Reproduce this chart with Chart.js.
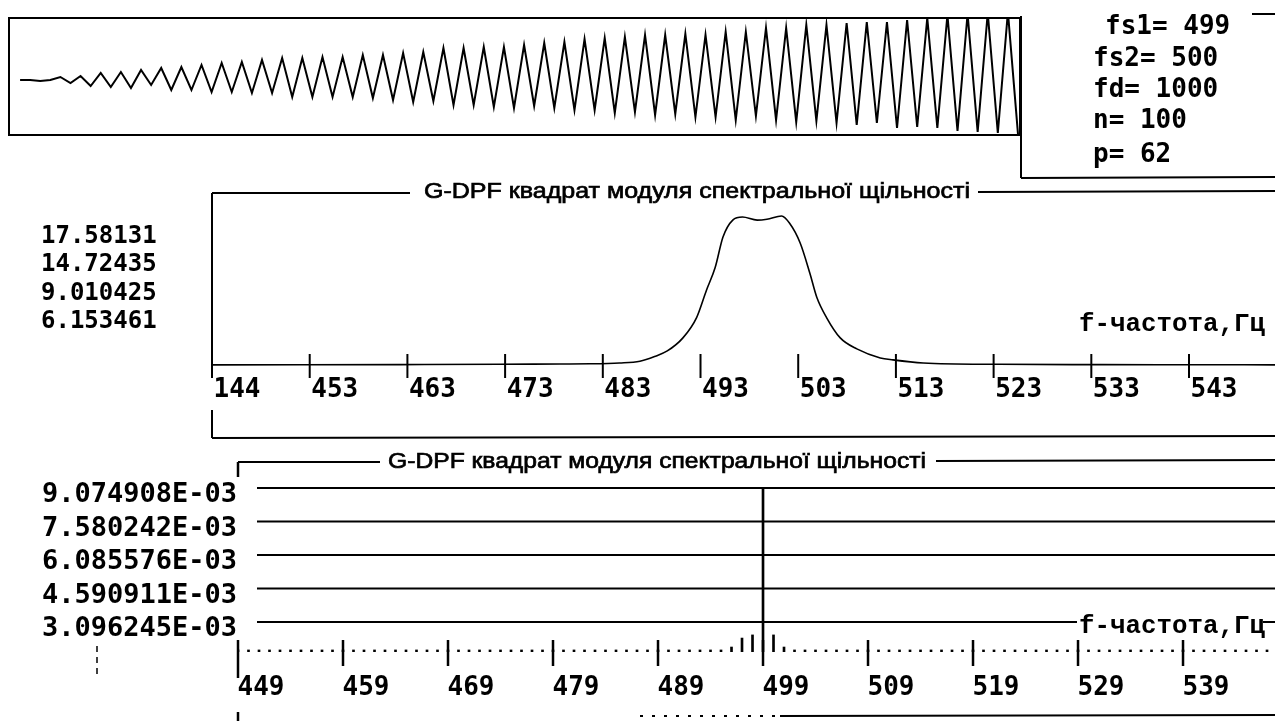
<!DOCTYPE html>
<html><head><meta charset="utf-8">
<script src="https://cdn.jsdelivr.net/npm/chart.js@4.4.0/dist/chart.umd.min.js"></script>
<style>
html,body{margin:0;padding:0;background:#fff;}
#wrap{position:relative;width:1275px;height:721px;overflow:hidden;background:#fff;}
canvas{position:absolute;left:0;top:0;}
</style></head><body>
<div id="wrap">
<canvas id="c1" width="1275" height="721"></canvas>
<canvas id="c2" width="1275" height="721"></canvas>
<canvas id="c3" width="1275" height="721"></canvas>
</div>
<script>
// ---------------- data ----------------
// panel 1: sampled signal (100 samples)
const waveSamples = [
  -4,-4,-5,-4,-1,-7,0,-10,3,-11,
  4,-12,6,-9,8,-14,9,-14,11,-16,
  13,-16,14,-17,16,-17,18,-21,18,-21,
  19,-21,19,-21,21,-22,21,-24,23,-26,
  24,-25,28,-29,28,-29,29,-31,29,-32,
  31,-30,33,-32,34,-34,37,-34,38,-37,
  39,-36,41,-39,41,-38,42,-41,41,-41,
  44,-44,44,-40,48,-44,48,-46,51,-45,
  51,-47,53,-49,54,-47,54,-52,56,-51,
  58,-52,61,-55,62,-56,63,-57,64,-58
];
const infoLines = ['fs1= 499','fs2= 500','fd= 1000','n= 100','p= 62'];

// panel 2: squared magnitude of spectral density (continuous)
const specFreq = [443,452,462.2,472.5,478.6,481.7,484.7,486.8,488.3,489.6,491.2,492.6,493.6,494.5,495.3,496.3,497.3,498.8,499.8,501.3,502.1,503.2,504.2,504.9,505.9,507.3,509,511.4,512.7,515.8,523.6,533.9,543,551.8];
const specValue = [0.02,0.03,0.05,0.08,0.12,0.14,0.24,0.45,1.0,1.66,3.2,5.6,8.8,11.5,15.1,17.1,17.46,17.1,17.2,17.58,16.75,14.4,10.8,8.0,5.6,3.2,1.9,0.83,0.6,0.24,0.08,0.04,0.03,0.02];
const specYLabels = ['17.58131','14.72435','9.010425','6.153461'];
const specXTicks = [443,453,463,473,483,493,503,513,523,533,543];
const specXLabels = ['144','453','463','473','483','493','503','513','523','533','543'];

// panel 3: DFT bins
const binFreq = [449,450,451,452,453,454,455,456,457,458,459,460,461,462,463,464,465,466,467,468,469,470,471,472,473,474,475,476,477,478,479,480,481,482,483,484,485,486,487,488,489,490,491,492,493,494,495,496,497,498,499,500,501,502,503,504,505,506,507,508,509,510,511,512,513,514,515,516,517,518,519,520,521,522,523,524,525,526,527,528,529,530,531,532,533,534,535,536,537,538,539,540,541,542,543,544,545,546,547];
const binValue = [
  1.85e-3,1.85e-3,1.85e-3,1.85e-3,1.85e-3,1.85e-3,1.85e-3,1.85e-3,1.85e-3,1.85e-3,
  1.85e-3,1.85e-3,1.85e-3,1.85e-3,1.85e-3,1.85e-3,1.85e-3,1.85e-3,1.85e-3,1.85e-3,
  1.85e-3,1.85e-3,1.85e-3,1.85e-3,1.85e-3,1.85e-3,1.85e-3,1.85e-3,1.85e-3,1.85e-3,
  1.85e-3,1.85e-3,1.85e-3,1.85e-3,1.85e-3,1.85e-3,1.85e-3,1.85e-3,1.85e-3,1.85e-3,
  1.85e-3,1.85e-3,1.85e-3,1.85e-3,1.85e-3,1.85e-3,1.85e-3,1.98e-3,2.38e-3,2.52e-3,
  9.074908e-3,2.52e-3,1.98e-3,1.85e-3,1.85e-3,1.85e-3,1.85e-3,1.85e-3,1.85e-3,1.85e-3,
  1.85e-3,1.85e-3,1.85e-3,1.85e-3,1.85e-3,1.85e-3,1.85e-3,1.85e-3,1.85e-3,1.85e-3,
  1.85e-3,1.85e-3,1.85e-3,1.85e-3,1.85e-3,1.85e-3,1.85e-3,1.85e-3,1.85e-3,1.85e-3,
  1.85e-3,1.85e-3,1.85e-3,1.85e-3,1.85e-3,1.85e-3,1.85e-3,1.85e-3,1.85e-3,1.85e-3,
  1.85e-3,1.85e-3,1.85e-3,1.85e-3,1.85e-3,1.85e-3,1.85e-3,1.85e-3,1.85e-3
];
const binYTicks = [3.096245e-3,4.590911e-3,6.085576e-3,7.580242e-3,9.074908e-3];
const binYLabels = ['3.096245E-03','4.590911E-03','6.085576E-03','7.580242E-03','9.074908E-03'];
const binXTicks = [449,459,469,479,489,499,509,519,529,539];
const binXLabels = ['449','459','469','479','489','499','509','519','529','539'];

const titleText = 'G-DPF квадрат модуля спектральної щільності';
const freqAxisText = 'f-частота,Гц';

// ---------------- helpers ----------------
const INK = '#000';
function line(ctx, x1, y1, x2, y2, w) {
  ctx.save(); ctx.strokeStyle = INK; ctx.lineWidth = w || 2;
  ctx.beginPath(); ctx.moveTo(x1, y1); ctx.lineTo(x2, y2); ctx.stroke(); ctx.restore();
}
function fitText(ctx, str, x, y, w, font, stroke) {
  ctx.save(); ctx.font = font; ctx.fillStyle = INK; ctx.strokeStyle = INK;
  ctx.textBaseline = 'middle'; ctx.textAlign = 'left';
  const m = ctx.measureText(str).width;
  ctx.translate(x, y); ctx.scale(w / m, 1); ctx.fillText(str, 0, 0);
  if (stroke) { ctx.lineWidth = stroke; ctx.strokeText(str, 0, 0); }
  ctx.restore();
}
function text(ctx, str, x, y, font, align) {
  ctx.save(); ctx.font = font; ctx.fillStyle = INK;
  ctx.textBaseline = 'middle'; ctx.textAlign = align || 'left';
  ctx.fillText(str, x, y); ctx.restore();
}
const monoBold = (s) => 'bold ' + s + 'px "DejaVu Sans Mono"';
const common = {
  responsive: false, animation: false, devicePixelRatio: 1,
  plugins: { legend: { display: false }, tooltip: { enabled: false }, title: { display: false } }
};

// ---------------- panel 1 ----------------
const frame1 = {
  id: 'frame1',
  afterDraw(chart) {
    const ctx = chart.ctx, a = chart.chartArea;
    ctx.save(); ctx.strokeStyle = INK; ctx.lineWidth = 2;
    ctx.strokeRect(a.left, a.top, a.right - a.left, a.bottom - a.top); ctx.restore();
    // info box
    line(ctx, a.right + 1, a.top - 2, a.right + 1, 178, 2);
    line(ctx, a.right + 1, 178, 1275, 177, 2);
    line(ctx, 1252, 14, 1275, 14, 2);
    const ys = [27, 59, 90, 121, 155];
    const xs = [1105, 1093, 1093, 1093, 1093];
    infoLines.forEach((s, i) => text(ctx, s, xs[i], ys[i], monoBold(26)));
  }
};
new Chart(document.getElementById('c1'), {
  type: 'line',
  data: { datasets: [{ data: waveSamples.map((v, i) => ({ x: i, y: v })), borderColor: INK, borderWidth: 2, pointRadius: 0, tension: 0 }] },
  options: Object.assign({}, common, {
    layout: { padding: { left: 9, top: 18, right: 255, bottom: 586 } },
    scales: {
      x: { type: 'linear', display: false, min: -1.1, max: 99.2 },
      y: { type: 'linear', display: false, min: -59, max: 58 }
    }
  }),
  plugins: [frame1]
});

// ---------------- panel 2 ----------------
const frame2 = {
  id: 'frame2',
  afterDraw(chart) {
    const ctx = chart.ctx, a = chart.chartArea, xs = chart.scales.x;
    // title bracket
    line(ctx, a.left, a.top, 410, a.top, 2);
    line(ctx, 978, a.top - 1, 1275, a.top - 2, 2);
    fitText(ctx, titleText, 424, 192, 546, '22px "Liberation Sans"', 0.7);
    // vertical axis
    line(ctx, a.left, a.top, a.left, 378, 2);
    // tick marks
    specXTicks.forEach((v, i) => {
      if (i === 0) return;
      const px = xs.getPixelForValue(v);
      line(ctx, px, 354, px, 378, 2);
    });
    // value list on the left
    const ly = [237, 265, 294, 322];
    specYLabels.forEach((s, i) => text(ctx, s, 41, ly[i], monoBold(24)));
    // axis caption
    fitText(ctx, freqAxisText, 1079, 324, 186, 'bold 26px "Liberation Mono"');
    // lower bracket
    line(ctx, a.left, 410, a.left, 438, 2);
    line(ctx, a.left, 438, 1275, 436, 2);
  }
};
new Chart(document.getElementById('c2'), {
  type: 'line',
  data: { datasets: [{ data: specFreq.map((f, i) => ({ x: f, y: specValue[i] })), borderColor: INK, borderWidth: 1.6, pointRadius: 0, tension: 0.35, cubicInterpolationMode: 'monotone' }] },
  options: Object.assign({}, common, {
    layout: { padding: { left: 212, top: 193, right: 0, bottom: 302 } },
    scales: {
      x: {
        type: 'linear', min: 443, max: 551.8, position: 'bottom',
        afterBuildTicks: (s) => { s.ticks = specXTicks.map(v => ({ value: v })); },
        afterFit: (s) => { s.height = 50; },
        grid: { display: false, drawTicks: false }, border: { display: false },
        ticks: { autoSkip: false, maxRotation: 0, minRotation: 0, padding: 6, labelOffset: 25, color: INK,
          font: { family: 'DejaVu Sans Mono', size: 26, weight: 'bold' },
          callback: (v, i) => specXLabels[i] }
      },
      y: { type: 'linear', display: false, min: -0.472, max: 20.30 }
    }
  }),
  plugins: [frame2]
});

// ---------------- panel 3 ----------------
const frame3 = {
  id: 'frame3',
  beforeDatasetsDraw(chart) {
    const ctx = chart.ctx, ys = chart.scales.y;
    binYTicks.forEach(v => {
      const py = ys.getPixelForValue(v);
      line(ctx, 257, py, 1275, py, 2);
    });
  },
  afterDraw(chart) {
    const ctx = chart.ctx, a = chart.chartArea, xs = chart.scales.x;
    // title bracket
    line(ctx, a.left, 462, a.left, 477, 2.5);
    line(ctx, a.left, 462, 380, 462, 2);
    line(ctx, 936, 461, 1275, 460, 2);
    fitText(ctx, titleText, 388, 462, 538, '22px "Liberation Sans"', 0.7);
    // tick marks
    binXTicks.forEach((v, i) => {
      const px = xs.getPixelForValue(v);
      if (i === 0) line(ctx, px, 640, px, 678, 2.5);
      else line(ctx, px, 640, px, 666, 2.5);
    });
    line(ctx, a.left, 712, a.left, 721, 2.5);
    // caption on last grid line
    ctx.save(); ctx.fillStyle = '#fff'; ctx.fillRect(1077, 609, 186, 30); ctx.restore();
    fitText(ctx, freqAxisText, 1079, 626, 186, 'bold 26px "Liberation Mono"');
    // bottom frame line
    ctx.save(); ctx.setLineDash([3, 9]); line(ctx, 640, 716, 780, 716, 2); ctx.restore();
    line(ctx, 780, 716, 1275, 715, 2);
    // small stray mark under the labels
    ctx.save(); ctx.setLineDash([6, 5]); line(ctx, 97, 646, 97, 674, 1.5); ctx.restore();
  }
};
new Chart(document.getElementById('c3'), {
  type: 'bar',
  data: { datasets: [{ data: binFreq.map((f, i) => ({ x: f, y: binValue[i] })), backgroundColor: INK, borderWidth: 0, barThickness: 2 }] },
  options: Object.assign({}, common, {
    layout: { padding: { left: 38, top: 488, right: 0, bottom: 9 } },
    scales: {
      x: {
        type: 'linear', min: 449, max: 547.76, offset: false, position: 'bottom',
        afterBuildTicks: (s) => { s.ticks = binXTicks.map(v => ({ value: v })); },
        afterFit: (s) => { s.height = 60; },
        grid: { display: false, drawTicks: false, offset: false }, border: { display: false },
        ticks: { autoSkip: false, maxRotation: 0, minRotation: 0, padding: 21, labelOffset: 23, color: INK,
          font: { family: 'DejaVu Sans Mono', size: 26, weight: 'bold' },
          callback: (v, i) => binXLabels[i] }
      },
      y: {
        type: 'linear', min: 1.758e-3, max: 9.074908e-3, position: 'left',
        afterBuildTicks: (s) => { s.ticks = binYTicks.map(v => ({ value: v })); },
        afterFit: (s) => { s.width = 200; },
        grid: { display: false, drawTicks: false }, border: { display: false },
        ticks: { autoSkip: false, padding: 1, labelOffset: 7, color: INK,
          font: { family: 'DejaVu Sans Mono', size: 27, weight: 'bold' },
          callback: (v, i) => binYLabels[i] }
      }
    }
  }),
  plugins: [frame3]
});
</script>
</body></html>
